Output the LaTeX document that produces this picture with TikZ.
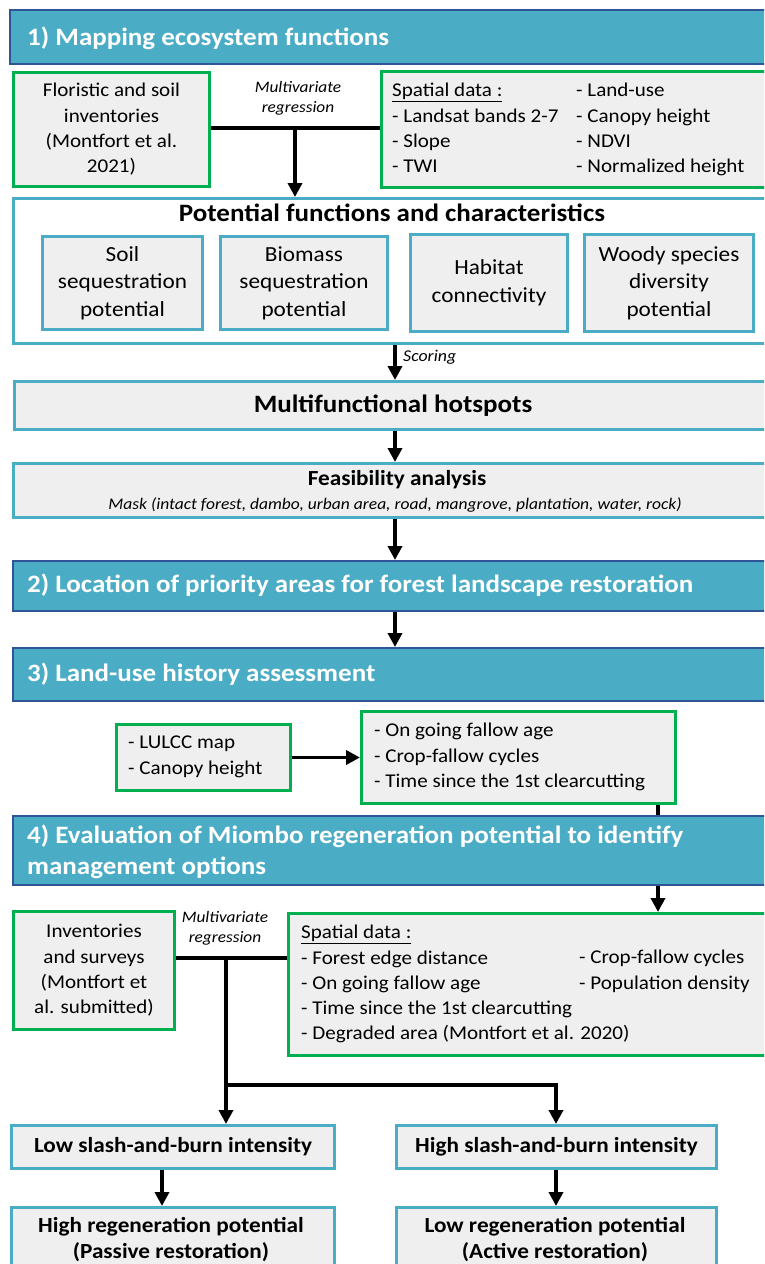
\documentclass[tikz,border=0pt]{standalone}
\usepackage{fontspec}
\setmainfont{Carlito}[FakeStretch=1.08]
\usetikzlibrary{arrows.meta}
\definecolor{hdrfill}{HTML}{4BACC6}
\definecolor{hdrline}{HTML}{2F5597}
\definecolor{grnline}{HTML}{00B050}
\definecolor{tealline}{HTML}{4BACC6}
\definecolor{boxgray}{HTML}{EFEFEF}
\tikzset{
  hdr/.style={draw=hdrline, line width=1.8pt, fill=hdrfill, anchor=north west, inner sep=0pt},
  gbox/.style={draw=grnline, line width=3pt, fill=boxgray, anchor=north west, inner sep=0pt},
  tbox/.style={draw=tealline, line width=3pt, fill=boxgray, anchor=north west, inner sep=0pt},
  wbox/.style={draw=tealline, line width=3pt, fill=white, anchor=north west, inner sep=0pt},
  hdrtxt/.style={text=white, font=\bfseries\fontsize{25}{31}\selectfont, anchor=base west, inner sep=0pt, align=left},
  body/.style={font=\fontsize{19.5}{25.3}\selectfont, inner sep=0pt},
  bodyc/.style={body, align=center},
  bodyl/.style={body, align=left, anchor=north west},
  subtxt/.style={font=\fontsize{21.5}{27.5}\selectfont, inner sep=0pt, align=center},
  boldtxt/.style={font=\bfseries\fontsize{21.5}{26}\selectfont, inner sep=0pt, align=center},
  note/.style={font=\itshape\fontsize{16}{20}\selectfont, inner sep=0pt, align=center},
  conn/.style={line width=3.6pt},
  arr/.style={line width=3.6pt, -{Triangle[width=14pt,length=14pt]}},
}
\begin{document}
\begin{tikzpicture}[x=1pt, y=-1pt]
\useasboundingbox (0,0) rectangle (764,1264);
\clip (0,0) rectangle (764,1264);
\fill[white] (0,0) rectangle (764,1264);

% ---------- 1) Mapping ecosystem functions
\node[hdr, minimum width=761pt, minimum height=54pt] (h1) at (9,9) {};
\node[hdrtxt] (h1t) at (27,45) {1) Mapping ecosystem functions};

\node[gbox, minimum width=196pt, minimum height=114pt] (flor) at (12,71) {};
\node[bodyc] (flort) at (flor.center) {Floristic and soil\\inventories\\(Montfort et al.\\2021)};

\node[note] (mr1) at (298,98) {Multivariate\\regression};

\node[gbox, minimum width=390pt, minimum height=116pt] (sp1) at (380,70) {};
\node[bodyl] (sp1a) at (392,83) {\underline{Spatial data :}\\- Landsat bands 2-7\\- Slope\\- TWI};
\node[bodyl] (sp1b) at (576,83) {- Land-use\\- Canopy height\\- NDVI\\- Normalized height};

% Potential functions
\node[wbox, minimum width=758pt, minimum height=145pt] (pot) at (12,197) {};
\node[font=\bfseries\fontsize{25}{30}\selectfont, inner sep=0pt] (pott) at (392,213) {Potential functions and characteristics};
\node[tbox, minimum width=160pt, minimum height=93pt] (soil) at (41,235) {};
\node[subtxt] (soilt) at (soil.center) {Soil\\sequestration\\potential};
\node[tbox, minimum width=167pt, minimum height=93pt] (bio) at (219,235) {};
\node[subtxt] (biot) at (bio.center) {Biomass\\sequestration\\potential};
\node[tbox, minimum width=157pt, minimum height=97pt] (hab) at (409,233) {};
\node[subtxt] (habt) at (hab.center) {Habitat\\connectivity};
\node[tbox, minimum width=169pt, minimum height=97pt] (woody) at (583,233) {};
\node[subtxt] (woodyt) at (woody.center) {Woody species\\diversity\\potential};

% Multifunctional hotspots
\node[tbox, minimum width=757pt, minimum height=48pt] (mh) at (13,380) {};
\node[font=\bfseries\fontsize{25}{30}\selectfont, inner sep=0pt] (mht) at (mh.center) {Multifunctional hotspots};

% Feasibility
\node[tbox, minimum width=758pt, minimum height=54pt] (fa) at (12,462) {};
\node[boldtxt] (fat) at (397,480) {Feasibility analysis};
\node[font=\itshape\fontsize{16.2}{18}\selectfont, inner sep=0pt] (fam) at (395,505) {Mask (intact forest, dambo, urban area, road, mangrove, plantation, water, rock)};

% 2) and 3)
\node[hdr, minimum width=758pt, minimum height=50pt] (h2) at (12,560) {};
\node[hdrtxt] (h2t) at (27,592) {2) Location of priority areas for forest landscape restoration};
\node[hdr, minimum width=758pt, minimum height=53pt] (h3) at (12,647) {};
\node[hdrtxt] (h3t) at (27,681) {3) Land-use history assessment};

\node[gbox, minimum width=174pt, minimum height=66pt] (lulcc) at (115,723) {};
\node[bodyl] (lulcct) at (128,736) {- LULCC map\\- Canopy height};
\node[gbox, minimum width=314pt, minimum height=92pt] (fal) at (360,710) {};
\node[bodyl] (falt) at (374,723) {- On going fallow age\\- Crop-fallow cycles\\- Time since the 1st clearcutting};

% connector through header 4 (drawn first, header covers it)
\coordinate (xr) at (658,0);
\node[gbox, minimum width=483pt, minimum height=142pt] (sp2) at (287,912) {};
\draw[arr] (fal.south -| xr) -- (sp2.north -| xr);

% 4)
\node[hdr, minimum width=758pt, minimum height=69pt] (h4) at (12,815) {};
\node[hdrtxt] (h4t) at (27,874) {4) Evaluation of Miombo regeneration potential to identify\\management options};

\node[gbox, minimum width=161pt, minimum height=118pt] (inv) at (12,910) {};
\node[bodyc] (invt) at (inv.center) {Inventories\\and surveys\\(Montfort et\\al. submitted)};
\node[note] (mr2) at (225,928) {Multivariate\\regression};
\node[bodyl] (sp2a) at (301,925) {\underline{Spatial data :}\\- Forest edge distance\\- On going fallow age\\- Time since the 1st clearcutting\\- Degraded area (Montfort et al. 2020)};
\node[bodyl] (sp2b) at (579,950) {- Crop-fallow cycles\\- Population density};

% slash-and-burn
\node[tbox, minimum width=323pt, minimum height=43pt] (low) at (10,1124) {};
\node[boldtxt] (lowt) at (low.center) {Low slash-and-burn intensity};
\node[tbox, minimum width=320pt, minimum height=43pt] (high) at (395,1124) {};
\node[boldtxt] (hight) at (high.center) {High slash-and-burn intensity};

\node[tbox, minimum width=323pt, minimum height=70pt] (hreg) at (10,1206) {};
\node[boldtxt] (hregt) at (171,1240) {High regeneration potential\\(Passive restoration)};
\node[tbox, minimum width=320pt, minimum height=70pt] (lreg) at (395,1206) {};
\node[boldtxt] (lregt) at (555,1240) {Low regeneration potential\\(Active restoration)};

% ---------- connectors
\coordinate (j1) at (295,128);
\draw[conn] (flor.east |- j1) -- (sp1.west |- j1);
\draw[arr] (j1) -- (pot.north -| j1);

\coordinate (xc) at (395,0);
\draw[arr] (pot.south -| xc) -- (mh.north -| xc);
\node[font=\itshape\fontsize{16.5}{18}\selectfont, anchor=west, inner sep=0pt] (sc) at (403,357) {Scoring};
\draw[arr] (mh.south -| xc) -- (fa.north -| xc);
\draw[arr] (fa.south -| xc) -- (h2.north -| xc);
\draw[arr] (h2.south -| xc) -- (h3.north -| xc);

\draw[arr] (lulcc.east) -- (fal.west |- lulcc.east);

\coordinate (j2) at (226,958);
\coordinate (j3) at (226,1085);
\coordinate (j4) at (556,1085);
\draw[conn] (inv.east |- j2) -- (sp2.west |- j2);
\draw[arr] (j2) -- (j3) -- (low.north -| j3);
\draw[arr] (j3) -- (j4) -- (high.north -| j4);

\coordinate (xl) at (162,0);
\draw[arr] (low.south -| xl) -- (hreg.north -| xl);
\draw[arr] (high.south -| j4) -- (lreg.north -| j4);
\end{tikzpicture}
\end{document}
